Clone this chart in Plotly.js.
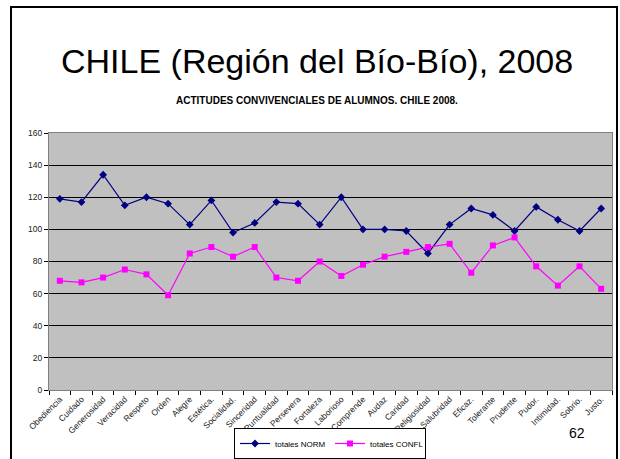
<!DOCTYPE html>
<html>
<head>
<meta charset="utf-8">
<script src="https://cdn.plot.ly/plotly-3.0.1.min.js"></script>
<style>
html,body{margin:0;padding:0;background:#fff;}
#wrap{position:relative;width:620px;height:459px;overflow:hidden;}
#chart{width:620px;height:459px;}
#frame{position:absolute;left:10px;top:6px;width:608px;height:470px;border:2px solid #000;box-sizing:border-box;pointer-events:none;}
</style>
</head>
<body>
<div id="wrap">
<div id="chart"></div>
<div id="frame"></div>
</div>
<script>
var categories = ["Obediencia","Cuidado","Generosidad","Veracidad","Respeto","Orden","Alegre","Estética.","Socialidad.","Sinceridad","Puntualidad","Persevera","Fortaleza","Laborioso","Comprende","Audaz","Caridad","Religiosidad","Salubridad","Eficaz.","Tolerante","Prudente","Pudor.","Intimidad.","Sobrio.","Justo."];
var totalesNORM = [119,117,134,115,120,116,103,118,98,104,117,116,103,120,100,100,99,85,103,113,109,99,114,106,99,113];
var totalesCONFL = [68,67,70,75,72,59,85,89,83,89,70,68,80,71,78,83,86,89,91,73,90,95,77,65,77,63];
var yTicks = [0,20,40,60,80,100,120,140,160];

var traces = [
  {x: categories, y: totalesNORM, name: "totales NORM", type: "scatter", mode: "lines+markers",
   line: {color: "#000080", width: 1.2}, marker: {symbol: "diamond", size: 6, color: "#000080"}},
  {x: categories, y: totalesCONFL, name: "totales CONFL", type: "scatter", mode: "lines+markers",
   line: {color: "#FF00FF", width: 1.2}, marker: {symbol: "square", size: 6, color: "#FF00FF"}}
];

var layout = {
  width: 620, height: 459,
  margin: {l: 49, r: 8, t: 133, b: 69},
  paper_bgcolor: "#ffffff",
  plot_bgcolor: "#C0C0C0",
  font: {family: "Liberation Sans, Arial, sans-serif", color: "#000"},
  showlegend: true,
  legend: {orientation: "h", xref: "container", yref: "container",
           x: 330 / 620, xanchor: "center", y: 0, yanchor: "bottom",
           bordercolor: "#000", borderwidth: 1, bgcolor: "#fff",
           font: {size: 8, color: "#000"}, itemwidth: 30,
           entrywidth: 50, entrywidthmode: "pixels"},
  xaxis: {type: "category", range: [-0.5, 25.5], tickangle: -45, tickson: "boundaries",
          ticks: "outside", ticklen: 4, tickcolor: "#000", showgrid: false,
          showline: true, linecolor: "#808080", linewidth: 1, mirror: true,
          tickfont: {size: 8.5, color: "#222"}, fixedrange: true, automargin: false},
  yaxis: {range: [0, 160], tickvals: yTicks, ticktext: yTicks.map(String),
          ticks: "outside", ticklen: 4, tickcolor: "#000",
          showgrid: true, gridcolor: "#000", gridwidth: 1,
          zeroline: true, zerolinecolor: "#000", zerolinewidth: 1,
          showline: true, linecolor: "#808080", linewidth: 1, mirror: true,
          tickfont: {size: 8.5, color: "#222"}, fixedrange: true, automargin: false},
  annotations: [
    {text: "CHILE (Región del Bío-Bío), 2008", xref: "paper", yref: "paper",
     x: (317 - 49) / 563, y: (390 - 61) / 257, xanchor: "center", yanchor: "middle",
     showarrow: false, font: {size: 34, color: "#000"}},
    {text: "<b>ACTITUDES CONVIVENCIALES DE ALUMNOS. CHILE 2008.</b>", xref: "paper", yref: "paper",
     x: (317 - 49) / 563, y: (390 - 100) / 257, xanchor: "center", yanchor: "middle",
     showarrow: false, font: {size: 10, color: "#000"}},
    {text: "62", xref: "paper", yref: "paper",
     x: (577 - 49) / 563, y: (390 - 433) / 257, xanchor: "center", yanchor: "middle",
     showarrow: false, font: {size: 14, color: "#000"}}
  ]
};

Plotly.newPlot("chart", traces, layout, {displayModeBar: false, staticPlot: true});
</script>
</body>
</html>
